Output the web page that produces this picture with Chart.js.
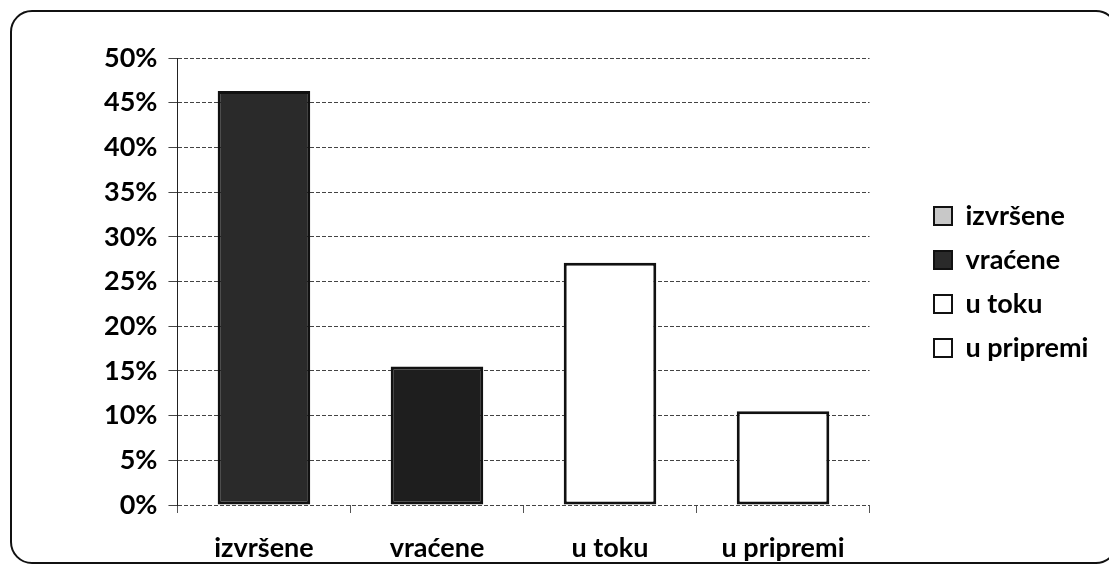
<!DOCTYPE html>
<html>
<head>
<meta charset="utf-8">
<script src="https://cdn.jsdelivr.net/npm/chart.js@4/dist/chart.umd.min.js"></script>
<style>
  html, body { margin: 0; padding: 0; background: #fff; }
  #wrap { position: relative; width: 1109px; height: 566px; overflow: hidden; }
  #frame { position: absolute; left: 10px; top: 10px; width: 1108px; height: 554px;
           border: 2px solid #111; border-radius: 22px; box-sizing: border-box; }
  #c { position: absolute; left: 0; top: 0; }
</style>
</head>
<body>
<div id="wrap">
  <div id="frame"></div>
  <canvas id="c" width="1109" height="566"></canvas>
</div>
<script>
const categories = ['izvršene', 'vraćene', 'u toku', 'u pripremi'];
const values = [46.3, 15.5, 27.1, 10.5];
const barColors = ['#2a2a2a', '#1e1e1e', '#ffffff', '#ffffff'];
const legendColors = ['#c8c8c8', '#2a2a2a', '#ffffff', '#ffffff'];
const yTicks = [0, 5, 10, 15, 20, 25, 30, 35, 40, 45, 50];

const FONT = "Lato, 'Open Sans', sans-serif";
const FS = 27;

// layout tuning for the legend box
const LEGEND_CENTER_Y = 282;
const LEGEND_LEFT_X = 917;

new Chart(document.getElementById('c'), {
  type: 'bar',
  data: {
    labels: categories,
    datasets: [{
      data: values,
      backgroundColor: barColors,
      borderColor: '#111',
      borderWidth: 3,
      borderSkipped: false,
      barPercentage: 0.535,
      categoryPercentage: 1
    }]
  },
  options: {
    responsive: false,
    animation: false,
    layout: { padding: { left: 93, top: 58, right: 58, bottom: 5 } },
    plugins: {
      tooltip: { enabled: false },
      legend: {
        position: 'right',
        labels: {
          color: '#000',
          font: { family: FONT, size: FS, weight: 'bold' },
          boxWidth: 18, boxHeight: 18,
          padding: 17,
          generateLabels: () => categories.map((c, i) => ({
            text: c, fillStyle: legendColors[i], strokeStyle: '#111', lineWidth: 2, index: i
          }))
        }
      }
    },
    scales: {
      x: {
        afterFit: (s) => { s.height = 56; },
        grid: { display: true, drawOnChartArea: false, drawTicks: true, tickLength: 8, color: '#555' },
        border: { display: false },
        ticks: { color: '#000', font: { family: FONT, size: FS, weight: 'bold' }, padding: 19 }
      },
      y: {
        min: 0, max: 50,
        afterBuildTicks: (axis) => { axis.ticks = yTicks.map(v => ({ value: v })); },
        grid: { color: '#444', lineWidth: 1, tickLength: 9, drawTicks: true },
        border: { display: true, color: '#222', width: 1, dash: [4, 2] },
        ticks: {
          color: '#000', padding: 11,
          font: { family: FONT, size: FS, weight: 'bold' },
          callback: (v) => v + '%'
        }
      }
    }
  },
  plugins: [{
    id: 'legendPlace',
    afterLayout(chart) {
      const lg = chart.legend;
      if (!lg) return;
      const dy = LEGEND_CENTER_Y - (lg.top + lg.bottom) / 2;
      const dx = LEGEND_LEFT_X - lg.left;
      lg.top += dy; lg.bottom += dy;
      lg.left += dx; lg.right += dx;
    }
  }]
});
</script>
</body>
</html>
